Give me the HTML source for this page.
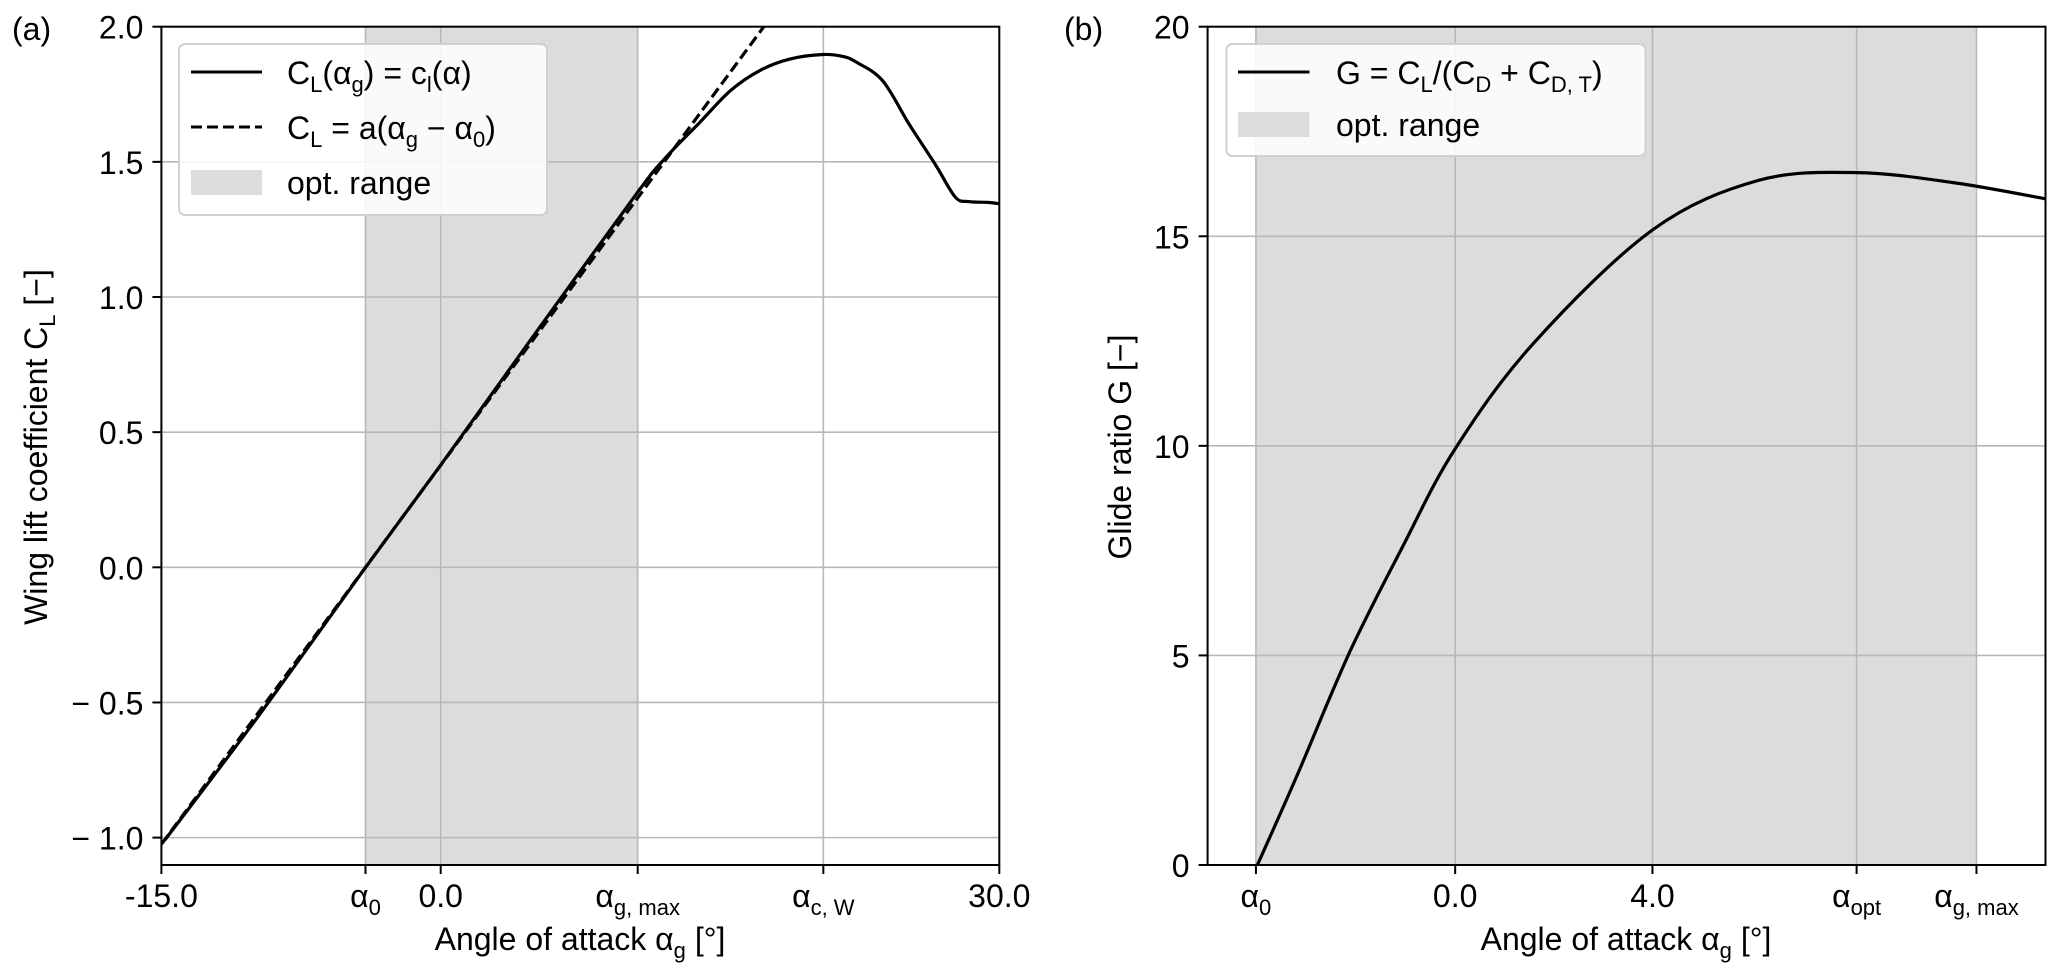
<!DOCTYPE html>
<html><head><meta charset="utf-8">
<style>
html,body{margin:0;padding:0;background:#fff;}
svg{display:block;font-family:"Liberation Sans","DejaVu Sans",sans-serif;}
</style></head>
<body>
<svg id="fig" width="2067" height="973" viewBox="0 0 2067 973"></svg>
<script>
// ---- Panel (a) data ----
const aAlpha = [-14.82, -10, -4.03, 0, 5.34, 10.58, 12.06, 13.9, 15.6, 17.2, 18.78, 20.55, 21.6, 22.32, 23.74, 25.15, 26.57, 27.63, 28.34, 29.4, 30];
const aCL    = [-1.009, -0.57, 0.0, 0.378, 0.89, 1.388, 1.514, 1.645, 1.766, 1.84, 1.881, 1.897, 1.89, 1.869, 1.80, 1.64, 1.49, 1.37, 1.353, 1.35, 1.345];
const liftSlope = [0.0935];
const alpha0 = [-4.04];
const aXTickVals = [-15, -4.04, 0, 10.58, 20.55, 30];
const aXTickLabels = ["-15.0", "α0", "0.0", "αg,max", "αc,W", "30.0"];
const aYTickVals = [-1.0, -0.5, 0.0, 0.5, 1.0, 1.5, 2.0];
const aYTickLabels = ["− 1.0", "− 0.5", "0.0", "0.5", "1.0", "1.5", "2.0"];
const optRange = [-4.04, 10.58];
// ---- Panel (b) data ----
const bAlpha = [-4.01, -3.22, -2.15, -1.08, 0, 1.59, 4.0, 6.14, 8.15, 10.15, 11.99];
const bG     = [0, 2.1, 5.05, 7.56, 9.93, 12.45, 15.15, 16.33, 16.52, 16.27, 15.89];
const bXTickVals = [-4.04, 0, 4.0, 8.14, 10.57];
const bXTickLabels = ["α0", "0.0", "4.0", "αopt", "αg,max"];
const bYTickVals = [0, 5, 10, 15, 20];
const bYTickLabels = ["0", "5", "10", "15", "20"];

const NS = "http://www.w3.org/2000/svg";
const svg = document.getElementById("fig");
function mk(tag, attrs, parent) {
  const e = document.createElementNS(NS, tag);
  for (const k in attrs) e.setAttribute(k, attrs[k]);
  (parent || svg).appendChild(e);
  return e;
}
function setLabel(t, label) {
  if (label.length > 1 && label[0] === "α") {
    t.textContent = "";
    const b = document.createElementNS(NS, "tspan"); b.textContent = "α"; t.appendChild(b);
    const s = document.createElementNS(NS, "tspan");
    s.setAttribute("font-size", "22"); s.setAttribute("dy", "8");
    s.textContent = label.slice(1).replace(",", ", ");
    t.appendChild(s);
  } else t.textContent = label;
}
function smoothPath(pts) {
  let d = "M" + pts[0][0].toFixed(1) + "," + pts[0][1].toFixed(1);
  for (let i = 0; i < pts.length - 1; i++) {
    const p0 = pts[Math.max(0, i - 1)], p1 = pts[i], p2 = pts[i + 1], p3 = pts[Math.min(pts.length - 1, i + 2)];
    const c1 = [p1[0] + (p2[0] - p0[0]) / 6, p1[1] + (p2[1] - p0[1]) / 6];
    const c2 = [p2[0] - (p3[0] - p1[0]) / 6, p2[1] - (p3[1] - p1[1]) / 6];
    d += " C" + c1[0].toFixed(1) + "," + c1[1].toFixed(1) + " " + c2[0].toFixed(1) + "," + c2[1].toFixed(1) + " " + p2[0].toFixed(1) + "," + p2[1].toFixed(1);
  }
  return d;
}
function panel(cfg) {
  const {L, R, T, B, xmin, xmax, ymin, ymax} = cfg;
  const sx = v => L + (v - xmin) / (xmax - xmin) * (R - L);
  const sy = v => B - (v - ymin) / (ymax - ymin) * (B - T);
  const g = mk("g", {});
  
  
  const clipId = cfg.name + "-clip";
  const cp = mk("clipPath", {id: clipId}, g);
  mk("rect", {x: L, y: T, width: R - L, height: B - T}, cp);
  const shade = mk("rect", {x: sx(optRange[0]), y: T, width: sx(optRange[1]) - sx(optRange[0]), height: B - T, fill: "#dcdcdc"}, g);
  
  
  cfg.xticks.forEach((v, i) => {
    const gl = mk("line", {x1: sx(v), x2: sx(v), y1: T, y2: B, stroke: "#b8b8b8", "stroke-width": 1.6}, g);
    
    
    mk("line", {x1: sx(v), x2: sx(v), y1: B, y2: B + 9, stroke: "#000", "stroke-width": 2}, g);
    const t = mk("text", {x: sx(v), y: 907, "text-anchor": "middle", "font-size": 32, fill: "#000"}, g);
    setLabel(t, cfg.xlabels[i]);
    
    
  });
  cfg.yticks.forEach((v, i) => {
    const gl = mk("line", {x1: L, x2: R, y1: sy(v), y2: sy(v), stroke: "#b8b8b8", "stroke-width": 1.6}, g);
    
    
    mk("line", {x1: L - 9, x2: L, y1: sy(v), y2: sy(v), stroke: "#000", "stroke-width": 2}, g);
    const t = mk("text", {x: L - 18, y: sy(v) + 12, "text-anchor": "end", "font-size": 32, fill: "#000"}, g);
    t.textContent = cfg.ylabels[i];
    
    
  });
  const lines = mk("g", {"clip-path": "url(#" + clipId + ")"}, g);
  cfg.series.forEach(s => {
    const pts = s.x.map((v, i) => [sx(v), sy(s.y[i])]);
    const d = s.smooth ? smoothPath(pts) : pts.map((p, i) => (i ? "L" : "M") + p[0].toFixed(1) + "," + p[1].toFixed(1)).join(" ");
    const p = mk("path", {d, fill: "none", stroke: "#000", "stroke-width": 3.2, "stroke-dasharray": s.dash || "none"}, lines);
    
    
  });
  const fr = mk("rect", {x: L, y: T, width: R - L, height: B - T, fill: "none", stroke: "#000", "stroke-width": 2}, g);
  
  
  return {sx, sy};
}

const dashX = [-15, 2 / liftSlope[0] + alpha0[0] + 0.5];
const dashY = dashX.map(v => liftSlope[0] * (v - alpha0[0]));

panel({name: "panel-a", L: 161.4, R: 999.3, T: 26.7, B: 865, xmin: -15, xmax: 30, ymin: -1.1013, ymax: 2,
  xticks: aXTickVals, xlabels: aXTickLabels, yticks: aYTickVals, ylabels: aYTickLabels,
  series: [{name: "cl-curve", x: aAlpha, y: aCL, smooth: true}, {name: "linear-cl-line", x: dashX, y: dashY, dash: "11,5"}]});
panel({name: "panel-b", L: 1207.6, R: 2045.5, T: 26.7, B: 865, xmin: -5.02, xmax: 11.97, ymin: 0, ymax: 20,
  xticks: bXTickVals, xlabels: bXTickLabels, yticks: bYTickVals, ylabels: bYTickLabels,
  series: [{name: "glide-ratio-curve", x: bAlpha, y: bG, smooth: true}]});
</script>
<svg width="2067" height="973" viewBox="0 0 2067 973" style="position:absolute;left:0;top:0;font-family:'Liberation Sans','DejaVu Sans',sans-serif;">
  <text x="12" y="40" font-size="32">(a)</text>
  <text x="1064" y="40" font-size="32">(b)</text>
  <text x="580" y="950" font-size="32" text-anchor="middle">Angle of attack α<tspan font-size="22" dy="8">g</tspan><tspan dy="-8"> [°]</tspan></text>
  <text x="1626" y="950" font-size="32" text-anchor="middle">Angle of attack α<tspan font-size="22" dy="8">g</tspan><tspan dy="-8"> [°]</tspan></text>
  <text transform="translate(47,447) rotate(-90)" font-size="32" text-anchor="middle">Wing lift coefficient C<tspan font-size="22" dy="8">L</tspan><tspan dy="-8"> [−]</tspan></text>
  <text transform="translate(1131,447) rotate(-90)" font-size="32" text-anchor="middle">Glide ratio G [−]</text>
  <g>
    <rect x="179" y="44" width="368" height="171" rx="6" fill="#fff" fill-opacity="0.85" stroke="#d0d0d0" stroke-width="2"/>
    <line x1="191" y1="72" x2="262" y2="72" stroke="#000" stroke-width="3"/>
    <text x="287" y="84" font-size="32">C<tspan font-size="22" dy="8">L</tspan><tspan dy="-8">(α</tspan><tspan font-size="22" dy="8">g</tspan><tspan dy="-8">) = c</tspan><tspan font-size="22" dy="8">l</tspan><tspan dy="-8">(α)</tspan></text>
    <line x1="191" y1="127" x2="262" y2="127" stroke="#000" stroke-width="3" stroke-dasharray="11,5"/>
    <text x="287" y="139" font-size="32">C<tspan font-size="22" dy="8">L</tspan><tspan dy="-8"> = a(α</tspan><tspan font-size="22" dy="8">g</tspan><tspan dy="-8"> − α</tspan><tspan font-size="22" dy="8">0</tspan><tspan dy="-8">)</tspan></text>
    <rect x="191" y="170" width="71" height="25" fill="#dcdcdc"/>
    <text x="287" y="194" font-size="32">opt. range</text>
  </g>
  <g>
    <rect x="1226.5" y="44" width="419" height="112" rx="6" fill="#fff" fill-opacity="0.85" stroke="#d0d0d0" stroke-width="2"/>
    <line x1="1238" y1="72" x2="1309.5" y2="72" stroke="#000" stroke-width="3"/>
    <text x="1336" y="84" font-size="32">G = C<tspan font-size="22" dy="8">L</tspan><tspan dy="-8">/(C</tspan><tspan font-size="22" dy="8">D</tspan><tspan dy="-8"> + C</tspan><tspan font-size="22" dy="8">D, T</tspan><tspan dy="-8">)</tspan></text>
    <rect x="1238" y="112" width="71.5" height="25" fill="#dcdcdc"/>
    <text x="1336" y="136" font-size="32">opt. range</text>
  </g>
</svg>
</body></html>
